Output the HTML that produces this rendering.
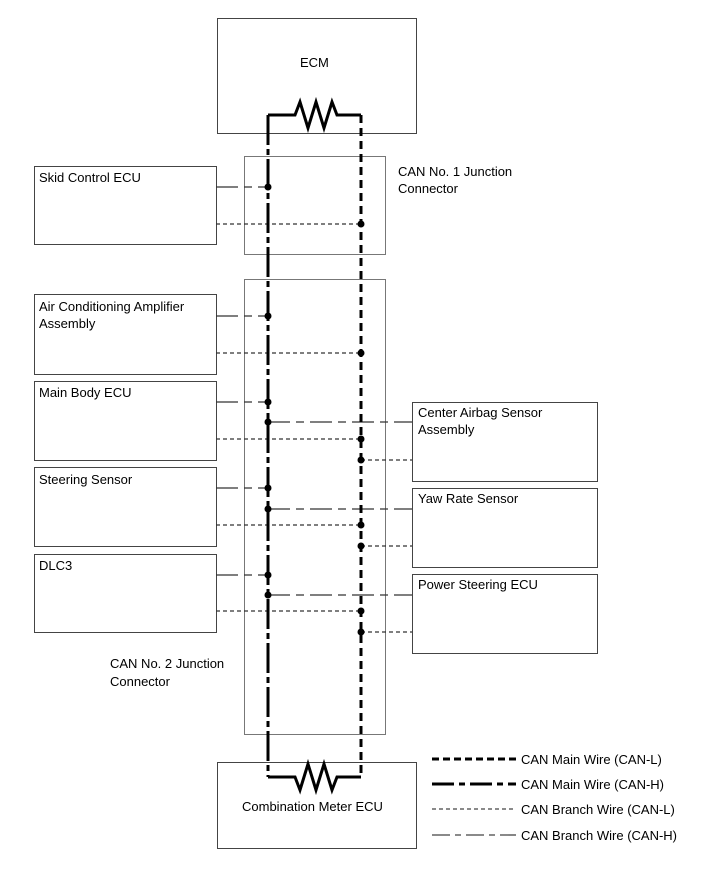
<!DOCTYPE html>
<html><head><style>body{margin:0;background:#fff}svg{display:block}text{font-family:"Liberation Sans",sans-serif;font-size:13px;fill:#000}</style></head>
<body>
<svg width="713" height="882" viewBox="0 0 713 882">
<g fill="none" stroke="#444" stroke-width="1">
<rect x="217.5" y="18.5" width="199" height="115"/>
<rect x="244.5" y="156.5" width="141" height="98" stroke="#777"/>
<rect x="244.5" y="279.5" width="141" height="455" stroke="#777"/>
<rect x="217.5" y="762.5" width="199" height="86"/>
<rect x="34.5" y="166.5" width="182" height="78"/>
<rect x="34.5" y="294.5" width="182" height="80"/>
<rect x="34.5" y="381.5" width="182" height="79"/>
<rect x="34.5" y="467.5" width="182" height="79"/>
<rect x="34.5" y="554.5" width="182" height="78"/>
<rect x="412.5" y="402.5" width="185" height="79"/>
<rect x="412.5" y="488.5" width="185" height="79"/>
<rect x="412.5" y="574.5" width="185" height="79"/>
</g>
<!-- branch H -->
<g stroke="#333" stroke-width="1.3" stroke-dasharray="22 6 8 6" fill="none">
<path d="M216 187H268M216 316H268M216 402H268M216 488H268M216 575H268"/>
<path d="M268 422H412M268 509H412M268 595H412"/>
</g>
<!-- branch L -->
<g stroke="#333" stroke-width="1.2" stroke-dasharray="4 3" fill="none">
<path d="M216 224H361M216 353H361M216 439H361M216 525H361M216 611H361"/>
<path d="M361 460H412M361 546H412M361 632H412"/>
</g>
<!-- main wires -->
<path d="M268 115V777" stroke="#000" stroke-width="3" stroke-dasharray="30 4 6 4" fill="none"/>
<path d="M361 115V777" stroke="#000" stroke-width="3" stroke-dasharray="8 5" fill="none"/>
<path d="M268 115H295L300 102L308 128L316 102L324 128L332 102L337 115H361" stroke="#000" stroke-width="3" fill="none"/>
<path d="M268 777H295L300 790L308 764L316 790L324 764L332 790L337 777H361" stroke="#000" stroke-width="3" fill="none"/>
<g fill="#000">
<circle cx="268" cy="187" r="3.5"/><circle cx="361" cy="224" r="3.5"/>
<circle cx="268" cy="316" r="3.5"/><circle cx="361" cy="353" r="3.5"/>
<circle cx="268" cy="402" r="3.5"/><circle cx="268" cy="422" r="3.5"/><circle cx="361" cy="439" r="3.5"/><circle cx="361" cy="460" r="3.5"/>
<circle cx="268" cy="488" r="3.5"/><circle cx="268" cy="509" r="3.5"/><circle cx="361" cy="525" r="3.5"/><circle cx="361" cy="546" r="3.5"/>
<circle cx="268" cy="575" r="3.5"/><circle cx="268" cy="595" r="3.5"/><circle cx="361" cy="611" r="3.5"/><circle cx="361" cy="632" r="3.5"/>
</g>
<!-- legend -->
<path d="M432 759H516" stroke="#000" stroke-width="3" stroke-dasharray="7 4"/>
<path d="M432 784H516" stroke="#000" stroke-width="3" stroke-dasharray="22 5 6 5"/>
<path d="M432 809H516" stroke="#444" stroke-width="1.2" stroke-dasharray="4 3"/>
<path d="M432 835H516" stroke="#444" stroke-width="1.3" stroke-dasharray="18 5 6 5"/>
<text x="521" y="764">CAN Main Wire (CAN-L)</text>
<text x="521" y="789">CAN Main Wire (CAN-H)</text>
<text x="521" y="814">CAN Branch Wire (CAN-L)</text>
<text x="521" y="840">CAN Branch Wire (CAN-H)</text>
<text x="300" y="67">ECM</text>
<text x="242" y="811">Combination Meter ECU</text>
<text x="398" y="176">CAN No. 1 Junction</text>
<text x="398" y="193">Connector</text>
<text x="110" y="668">CAN No. 2 Junction</text>
<text x="110" y="686">Connector</text>
<text x="39" y="182">Skid Control ECU</text>
<text x="39" y="311">Air Conditioning Amplifier</text>
<text x="39" y="328">Assembly</text>
<text x="39" y="397">Main Body ECU</text>
<text x="39" y="484">Steering Sensor</text>
<text x="39" y="570">DLC3</text>
<text x="418" y="417">Center Airbag Sensor</text>
<text x="418" y="434">Assembly</text>
<text x="418" y="503">Yaw Rate Sensor</text>
<text x="418" y="589">Power Steering ECU</text>
</svg>
</body></html>
